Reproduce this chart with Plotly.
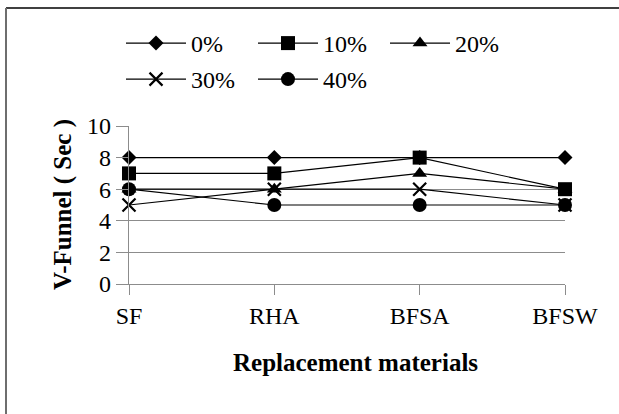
import plotly.graph_objects as go

# Replacement materials on the category axis
materials = ["SF", "RHA", "BFSA", "BFSW"]

# V-Funnel time (sec) for each replacement level
series_names = ["0%", "10%", "20%", "30%", "40%"]
v_funnel_0 = [8, 8, 8, 8]
v_funnel_10 = [7, 7, 8, 6]
v_funnel_20 = [6, 6, 7, 6]
v_funnel_30 = [5, 6, 6, 5]
v_funnel_40 = [6, 5, 5, 5]

y_ticks = [0, 2, 4, 6, 8, 10]

W, H = 619, 414
M_L, M_R, M_T, M_B = 129, 54, 126, 130
PW, PH = W - M_L - M_R, H - M_T - M_B

FONT = "Liberation Serif"
GRID = "#8c8c8c"


def px_x(px):
    return (px - M_L) / PW


def px_y(py):
    return (H - M_B - py) / PH


# (name, values, marker symbol, marker size, legend rank, legend row)
series = [
    (series_names[0], v_funnel_0, "diamond", 11.5, 1, "legend"),
    (series_names[1], v_funnel_10, "square", 14, 2, "legend"),
    (series_names[2], v_funnel_20, "triangle-up", 13, 3, "legend"),
    (series_names[3], v_funnel_30, "x-thin-open", 13, 4, "legend2"),
    (series_names[4], v_funnel_40, "circle", 14, 5, "legend2"),
]
# draw order: triangles sit beneath the squares
draw_order = [0, 2, 1, 3, 4]

fig = go.Figure()
for i in draw_order:
    name, vals, sym, size, rank, leg = series[i]
    marker = dict(symbol=sym, size=size, color="black")
    if sym.endswith("open"):
        marker["line"] = dict(color="black", width=2.2)
    else:
        marker["line"] = dict(color="black", width=0)
    fig.add_trace(go.Scatter(
        x=materials, y=vals, name=name, mode="lines+markers",
        line=dict(color="black", width=1.2),
        marker=marker, cliponaxis=False, legendrank=rank, legend=leg,
    ))

legend_style = dict(
    orientation="h", xanchor="left", yanchor="top",
    itemwidth=60, entrywidth=57, entrywidthmode="pixels",
    font=dict(family=FONT, size=24), traceorder="normal",
    bgcolor="rgba(0,0,0,0)",
)

fig.update_layout(
    width=W, height=H,
    margin=dict(l=M_L, r=M_R, t=M_T, b=M_B),
    paper_bgcolor="white", plot_bgcolor="white",
    font=dict(family=FONT, size=24, color="black"),
    showlegend=True,
    legend=dict(x=px_x(121), y=px_y(21), **legend_style),
    legend2=dict(x=px_x(121), y=px_y(57), **legend_style),
    xaxis=dict(
        type="category", range=[0, 3], showgrid=False,
        showline=True, linecolor=GRID, linewidth=1.3,
        ticks="outside", ticklen=10, tickcolor=GRID, tickwidth=1.3,
        tickfont=dict(family=FONT, size=24), zeroline=False,
    ),
    yaxis=dict(
        range=[0, 10], tickvals=y_ticks, showgrid=True, gridcolor=GRID,
        gridwidth=1.3, showline=True, linecolor=GRID, linewidth=1.3,
        ticks="outside", ticklen=12, tickcolor=GRID, tickwidth=1.3,
        tickfont=dict(family=FONT, size=24), zeroline=False,
    ),
    annotations=[
        dict(text="<b>Replacement materials</b>", xref="paper", yref="paper",
             x=px_x(355), y=px_y(362), xanchor="center", yanchor="middle",
             showarrow=False, font=dict(family=FONT, size=25)),
        dict(text="<b>V-Funnel ( Sec )</b>", xref="paper", yref="paper",
             x=px_x(63), y=px_y(205), xanchor="center", yanchor="middle",
             textangle=-90, showarrow=False, font=dict(family=FONT, size=25)),
    ],
    shapes=[
        dict(type="line", xref="paper", yref="paper",
             x0=px_x(6), x1=px_x(W + 5), y0=px_y(8), y1=px_y(8),
             line=dict(color="black", width=1.5)),
        dict(type="line", xref="paper", yref="paper",
             x0=px_x(6), x1=px_x(6), y0=px_y(8), y1=px_y(H + 5),
             line=dict(color="#6e6e6e", width=2)),
    ],
)

fig.write_html("out.html")
